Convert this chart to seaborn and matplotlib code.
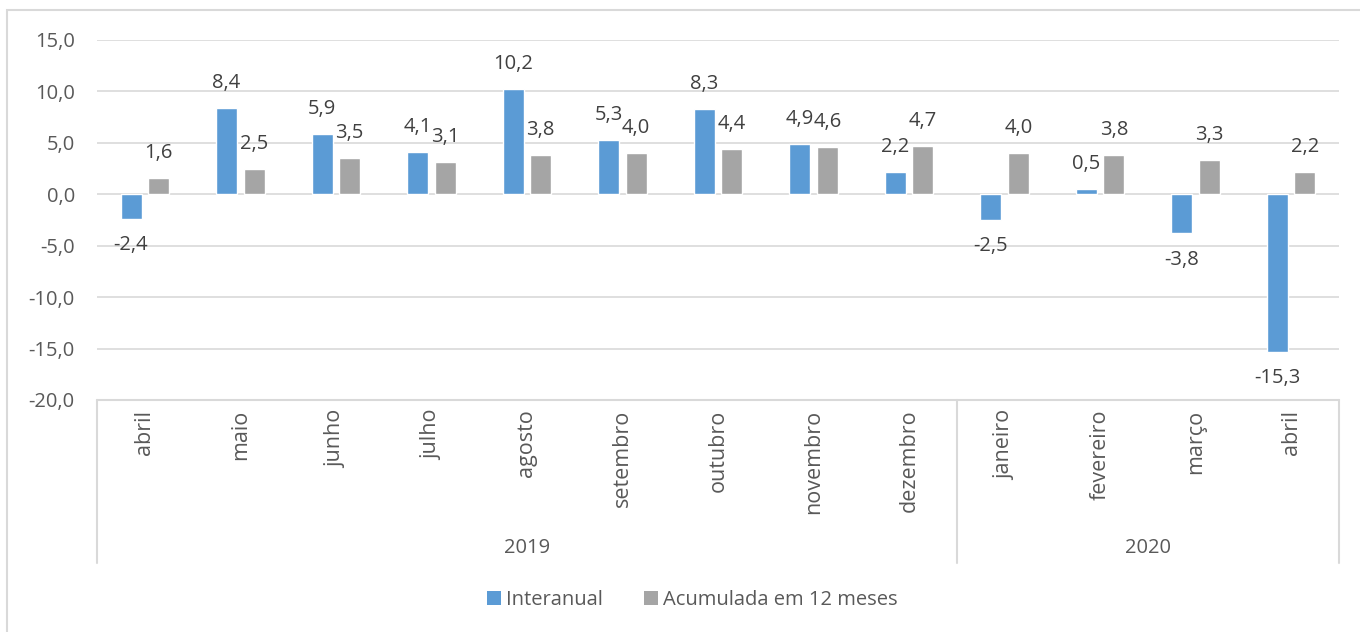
import matplotlib
matplotlib.use("Agg")
import matplotlib.pyplot as plt
from matplotlib.patches import Patch, Rectangle
import seaborn as sns
import pandas as pd

# Monthly variation, April 2019 - April 2020
months = ["abril", "maio", "junho", "julho", "agosto", "setembro", "outubro",
          "novembro", "dezembro", "janeiro", "fevereiro", "março", "abril"]
years = ["2019"] * 9 + ["2020"] * 4
interanual = [-2.4, 8.4, 5.9, 4.1, 10.2, 5.3, 8.3, 4.9, 2.2, -2.5, 0.5, -3.8, -15.3]
acumulada = [1.6, 2.5, 3.5, 3.1, 3.8, 4.0, 4.4, 4.6, 4.7, 4.0, 3.8, 3.3, 2.2]
series_names = ["Interanual", "Acumulada em 12 meses"]
colors = ["#5B9BD5", "#A5A5A5"]
yticks = [15, 10, 5, 0, -5, -10, -15, -20]

keys = [f"{m} {y}" for m, y in zip(months, years)]
df = pd.DataFrame({
    "key": keys * 2,
    "valor": interanual + acumulada,
    "serie": [series_names[0]] * len(keys) + [series_names[1]] * len(keys),
})

sns.set_theme(style="white")
plt.rcParams["font.family"] = ["Open Sans", "DejaVu Sans"]
text_color = "#595959"
grid_color = "#D9D9D9"
fs = 14.5

fig = plt.figure(figsize=(13.6, 6.32), dpi=100)
ax = fig.add_axes([97 / 1360, 1 - 400 / 632, (1339 - 97) / 1360, 360 / 632])

sns.barplot(data=df, x="key", y="valor", hue="serie", order=keys,
            hue_order=series_names, palette=colors, saturation=1,
            width=0.576, gap=0.236, legend=False, ax=ax)

ax.set_ylim(-20, 15)
ax.set_xlim(-0.5, len(keys) - 0.5)
ax.set_yticks(yticks)
ax.set_yticklabels([f"{v:.1f}".replace(".", ",") for v in yticks])
ax.yaxis.grid(True, color=grid_color, linewidth=1.2)
ax.set_axisbelow(True)
ax.set_xlabel("")
ax.set_ylabel("")
for s in ["top", "right", "left", "bottom"]:
    ax.spines[s].set_visible(False)
ax.tick_params(axis="y", length=0, pad=16, labelsize=fs, labelcolor=text_color)
ax.set_xticks(range(len(keys)))
ax.set_xticklabels(months, rotation=90, va="top")
ax.tick_params(axis="x", length=0, pad=7, labelsize=15.5, labelcolor=text_color)

# Data labels
for cont, vals in zip(ax.containers, [interanual, acumulada]):
    for bar, v in zip(cont, vals):
        cx = bar.get_x() + bar.get_width() / 2
        off = 18 if v >= 0 else -19
        ax.annotate(f"{v:.1f}".replace(".", ","), xy=(cx, v), xytext=(0, off),
                    textcoords="offset points", ha="center", va="center",
                    fontsize=fs, color="#404040")

# Category frame with year grouping
tr = ax.get_xaxis_transform()
ax.plot([-0.5, len(keys) - 0.5], [0, 0], transform=tr, color=grid_color,
        lw=1.5, clip_on=False)
for xb in [-0.5, 8.5, len(keys) - 0.5]:
    ax.plot([xb, xb], [0, -163 / 360], transform=tr, color=grid_color,
            lw=1.5, clip_on=False)
for yr, (a, b) in {"2019": (-0.5, 8.5), "2020": (8.5, len(keys) - 0.5)}.items():
    ax.text((a + b) / 2, -148 / 360, yr, transform=tr, ha="center",
            va="center", fontsize=fs, color=text_color)

handles = [Patch(facecolor=c, edgecolor="none") for c in colors]
fig.legend(handles, series_names, loc="center", ncol=2, frameon=False,
           bbox_to_anchor=(0.509, 1 - 600 / 632), handlelength=0.7,
           handleheight=0.7, handletextpad=0.25, columnspacing=2.0,
           fontsize=fs, labelcolor=text_color)

fig.patches.append(Rectangle((7 / 1360, -0.01), 1.1, (632 - 10) / 632 + 0.01,
                             transform=fig.transFigure, facecolor="none",
                             edgecolor=grid_color, lw=1.5))

fig.savefig("out.png", dpi=100)
